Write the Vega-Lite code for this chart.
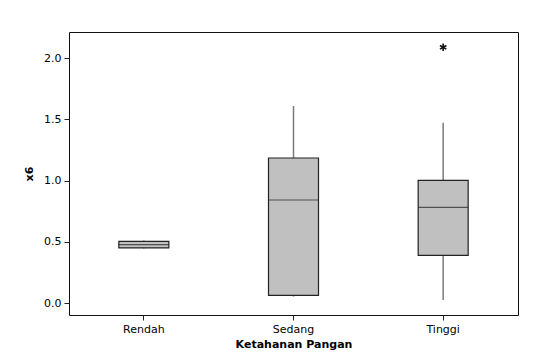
{
  "$schema": "https://vega.github.io/schema/vega-lite/v6.json",
  "width": 449,
  "height": 283,
  "autosize": {"type": "none"},
  "padding": {"left": 69, "top": 32, "right": 19, "bottom": 47},
  "background": "white",
  "config": {
    "view": {"stroke": "#111111", "strokeWidth": 1},
    "axis": {
      "labelFont": "DejaVu Sans",
      "labelFontSize": 11,
      "labelColor": "#000000",
      "titleFont": "DejaVu Sans",
      "titleFontSize": 11,
      "titleFontWeight": "bold",
      "titleColor": "#000000",
      "domain": false,
      "grid": false,
      "tickColor": "#222222",
      "tickSize": 5
    }
  },
  "datasets": {
    "boxes": [
      {"group": "Rendah", "lower": 0.445, "q1": 0.45, "median": 0.477, "q3": 0.504, "upper": 0.51},
      {"group": "Sedang", "lower": 0.052, "q1": 0.063, "median": 0.842, "q3": 1.185, "upper": 1.61},
      {"group": "Tinggi", "lower": 0.025, "q1": 0.39, "median": 0.782, "q3": 1.003, "upper": 1.474}
    ],
    "outliers": [
      {"group": "Tinggi", "value": 2.09}
    ]
  },
  "layer": [
    {
      "data": {"name": "boxes"},
      "mark": {"type": "rule", "color": "#7a7a7a", "strokeWidth": 1.5},
      "encoding": {
        "x": {"field": "group", "type": "nominal"},
        "y": {"field": "lower", "type": "quantitative"},
        "y2": {"field": "q1"}
      }
    },
    {
      "data": {"name": "boxes"},
      "mark": {"type": "rule", "color": "#7a7a7a", "strokeWidth": 1.5},
      "encoding": {
        "x": {"field": "group", "type": "nominal"},
        "y": {"field": "q3", "type": "quantitative"},
        "y2": {"field": "upper"}
      }
    },
    {
      "data": {"name": "boxes"},
      "mark": {"type": "bar", "size": 50, "fill": "#c0c0c0", "stroke": "#222222", "strokeWidth": 1.2},
      "encoding": {
        "x": {"field": "group", "type": "nominal"},
        "y": {"field": "q1", "type": "quantitative"},
        "y2": {"field": "q3"}
      }
    },
    {
      "data": {"name": "boxes"},
      "mark": {"type": "tick", "size": 50, "thickness": 1.2, "color": "#222222", "orient": "horizontal"},
      "encoding": {
        "x": {"field": "group", "type": "nominal"},
        "y": {"field": "median", "type": "quantitative"}
      }
    },
    {
      "data": {"name": "outliers"},
      "mark": {"type": "point", "shape": "M0,-1L0,1M-0.87,-0.5L0.87,0.5M-0.87,0.5L0.87,-0.5", "filled": false, "stroke": "#111111", "strokeWidth": 1.6, "size": 55, "opacity": 1},
      "encoding": {
        "x": {"field": "group", "type": "nominal"},
        "y": {"field": "value", "type": "quantitative"}
      }
    }
  ],
  "encoding": {
    "x": {
      "field": "group",
      "type": "nominal",
      "title": "Ketahanan Pangan",
      "scale": {"type": "band", "domain": ["Rendah", "Sedang", "Tinggi"], "paddingInner": 0, "paddingOuter": 0},
      "axis": {"labelAngle": 0, "labelPadding": 3, "titlePadding": 4}
    },
    "y": {
      "type": "quantitative",
      "title": "x6",
      "scale": {"domain": [-0.098, 2.215], "nice": false, "zero": false},
      "axis": {"values": [0, 0.5, 1, 1.5, 2], "format": ".1f", "labelPadding": 3, "titlePadding": 9}
    }
  }
}
